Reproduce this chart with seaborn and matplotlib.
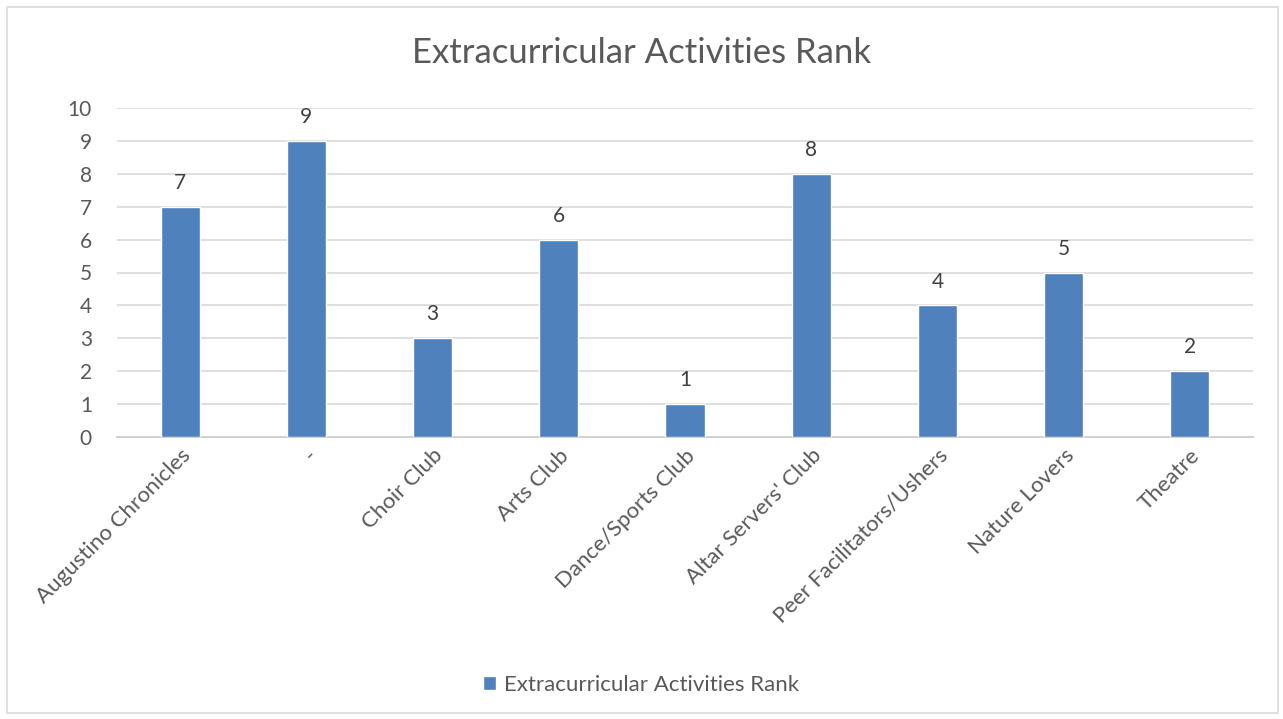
import matplotlib
matplotlib.use("Agg")
import matplotlib.pyplot as plt
import seaborn as sns
import pandas as pd
from matplotlib.patches import Rectangle

categories = ["Augustino Chronicles", "-", "Choir Club", "Arts Club", "Dance/Sports Club",
              "Altar Servers' Club", "Peer Facilitators/Ushers", "Nature Lovers", "Theatre"]
values = [7, 9, 3, 6, 1, 8, 4, 5, 2]
series_name = "Extracurricular Activities Rank"
yticks = [0, 1, 2, 3, 4, 5, 6, 7, 8, 9, 10]

sns.set_theme(style="white")
plt.rcParams['font.family'] = ['Lato', 'DejaVu Sans']

text_color = "#595959"
bar_color = "#4F81BD"

df = pd.DataFrame({"cat": categories, "val": values})

fig = plt.figure(figsize=(12.83, 7.19), dpi=100)
fig.patches.append(Rectangle((7 / 1283, 1 - 713 / 719), 1271 / 1283, 706 / 719,
                             transform=fig.transFigure, fill=False,
                             edgecolor="#D9D9D9", linewidth=1.2))
ax = fig.add_axes([117 / 1283, 1 - 437 / 719, (1253 - 117) / 1283, (437 - 108) / 719])

sns.barplot(data=df, x="cat", y="val", color=bar_color, width=0.31, ax=ax,
            saturation=1, label=series_name, zorder=3)
handles, labels = ax.get_legend_handles_labels()
if ax.get_legend() is not None:
    ax.get_legend().remove()

ax.set_ylim(0, 10)
ax.set_xlim(-0.5, len(categories) - 0.5)
ax.set_yticks(yticks)
ax.set_yticklabels([str(t) for t in yticks], fontsize=15, color=text_color)
ax.yaxis.grid(True, color="#D9D9D9", linewidth=1.2, zorder=0)
ax.set_axisbelow(True)
for s in ["top", "right", "left"]:
    ax.spines[s].set_visible(False)
ax.spines["bottom"].set_color("#D0D0D0")
ax.spines["bottom"].set_linewidth(1.4)
ax.tick_params(axis="both", length=0)
ax.tick_params(axis="y", pad=18)
ax.set_xlabel("")
ax.set_ylabel("")
ax.set_xticks(range(len(categories)))
ax.set_xticklabels(categories, rotation=45, ha="right", va="top",
                   rotation_mode="anchor", fontsize=16, color=text_color)
ax.tick_params(axis="x", pad=6)

for i, v in enumerate(values):
    ax.annotate(str(v), (i, v), xytext=(0, 10), textcoords="offset points",
                ha="center", va="bottom", fontsize=15, color="#404040")

fig.text(0.5, 1 - 53 / 719, series_name, ha="center", va="center",
         fontsize=25, color=text_color)

leg = fig.legend(handles, labels, loc="center", bbox_to_anchor=(0.5, 1 - 685 / 719),
                 frameon=False, fontsize=16, handlelength=0.55, handleheight=0.55,
                 handletextpad=0.4)
for t in leg.get_texts():
    t.set_color(text_color)

fig.savefig("out.png", dpi=100)
